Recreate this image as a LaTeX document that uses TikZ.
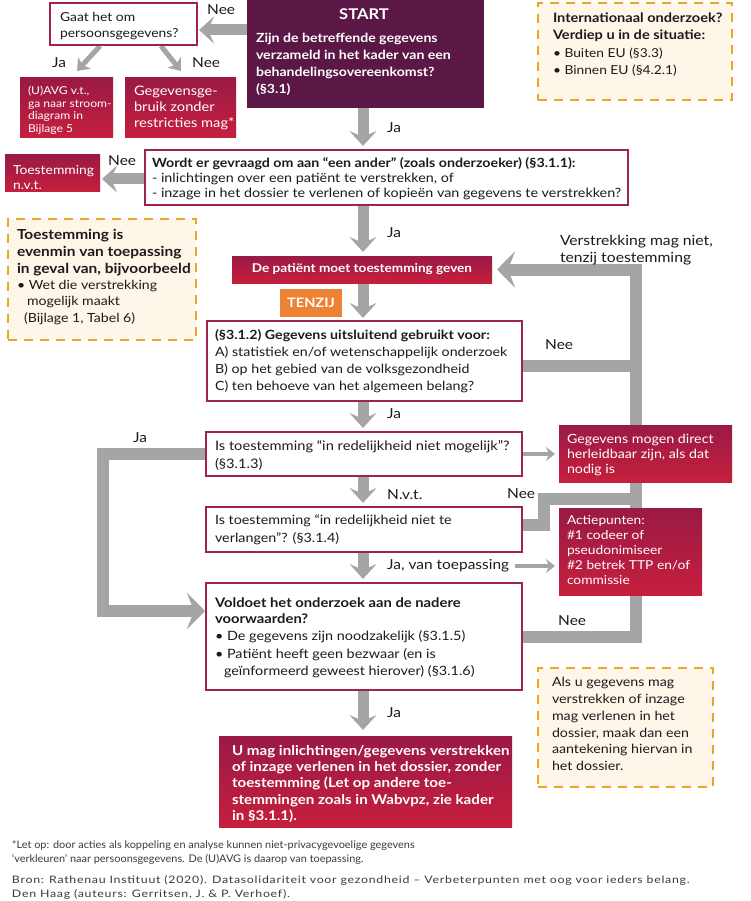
\documentclass[tikz,border=0pt]{standalone}
\usepackage{fontspec}
\setmainfont[FakeStretch=1.12]{Lato}
\newfontfamily\condfont[FakeStretch=1.04]{Lato}
\newfontfamily\srcfont[FakeStretch=1.2,LetterSpace=7]{Lato}
\usetikzlibrary{arrows.meta}
\definecolor{crimA}{HTML}{9A1A45}
\definecolor{crimB}{HTML}{C61F3D}
\definecolor{plum}{HTML}{5B1847}
\definecolor{frame}{HTML}{A0224F}
\definecolor{arrowgray}{HTML}{A5A5A5}
\definecolor{dashor}{HTML}{EBA624}
\definecolor{cream}{HTML}{FDF6E9}
\definecolor{tenzijor}{HTML}{EE8234}
\definecolor{ink}{HTML}{1E1A1C}
\definecolor{inkb}{HTML}{3A3A3A}
\pgfdeclarelayer{bg}
\pgfsetlayers{bg,main}
\newcommand\fsz[2]{\fontsize{#1}{#2}\selectfont}
\begin{document}
\begin{tikzpicture}[x=1pt,y=-1pt,
  box/.style={anchor=north west, inner sep=0pt, outer sep=0pt, rectangle},
  whitebox/.style={box, draw=frame, line width=1.8pt, fill=white},
  redbox/.style={box, top color=crimA, bottom color=crimB},
  plumbox/.style={box, fill=plum},
  notebox/.style={box, draw=dashor, line width=2.6pt, dash pattern=on 9pt off 7pt, fill=cream},
  tx/.style={anchor=north west, inner sep=0pt, outer sep=0pt, align=left, text=ink, font=\fsz{12.7}{17}},
  wtx/.style={tx, text=white},
  lbl/.style={anchor=west, inner sep=0pt, text=ink, font=\fsz{13.8}{15}},
  bigarrow/.style={draw=arrowgray, line width=11pt, -{Stealth[length=15pt,width=27pt,inset=6pt]}},
  rail/.style={draw=arrowgray, line width=12pt, line join=miter},
  railarrow/.style={rail, -{Stealth[length=18pt,width=36pt,inset=7pt]}},
  midarrow/.style={draw=arrowgray, line width=5pt, -{Stealth[length=11pt,width=17pt,inset=3pt]}},
  thinarrow/.style={draw=arrowgray, line width=3.5pt, -{Stealth[length=9pt,width=14pt,inset=3pt]}}
]
\useasboundingbox (0,0) rectangle (750,901);
\begin{pgfonlayer}{bg}
\fill[white] (0,0) rectangle (750,901);
\end{pgfonlayer}

% ---------- top ----------
\node[plumbox, minimum width=237pt, minimum height=108pt] (start) at (247,0) {};
\node[anchor=north, inner sep=0pt, text=white, font=\bfseries\fsz{14.8}{17}] (starttitle) at (364,8) {START};
\node[wtx, font=\bfseries\fsz{12.6}{17}] (starttext) at (256,33) {Zijn de betreffende gegevens\\verzameld in het kader van een\\behandelingsovereenkomst?\\(§3.1)};

\node[whitebox, minimum width=147pt, minimum height=42pt] (gaat) at (50,3) {};
\node[tx, font=\fsz{12.4}{16}] (gaattext) at (60,12) {Gaat het om\\persoonsgegevens?};

\node[redbox, minimum width=93pt, minimum height=60pt] (uavg) at (20,78) {};
\node[wtx, font=\fsz{10.8}{12.7}] (uavgtext) at (28,86) {(U)AVG v.t.,\\ga naar stroom-\\diagram in\\Bijlage 5};
\node[redbox, minimum width=111pt, minimum height=60pt] (gebruik) at (125,78) {};
\node[wtx, font=\fsz{13.1}{16}] (gebruiktext) at (134,86) {Gegevensge-\\bruik zonder\\restricties mag*};

\node[notebox, minimum width=194pt, minimum height=97pt] (intl) at (538,3) {};
\node[tx, font=\bfseries\fsz{13}{16.5}] (intltitle) at (553,13) {Internationaal onderzoek?\\Verdiep u in de situatie:};
\node[tx, font=\fsz{12.3}{17}] (intllist) at (553,48) {• Buiten EU (§3.3)\\• Binnen EU (§4.2.1)};

\node[lbl] (neeStart) at (207,10) {Nee};
\node[lbl] (jaGaat) at (52,63) {Ja};
\node[lbl] (neeGaat) at (192,63) {Nee};
\node[lbl] (jaStart) at (387,128) {Ja};

% ---------- wordt ----------
\node[whitebox, minimum width=483pt, minimum height=55pt] (wordt) at (145,150) {};
\node[tx, font=\fsz{12.8}{15}] (wordttext) at (152,158) {{\fontsize{12.7}{15}\selectfont\bfseries Wordt er gevraagd om aan “een ander” (zoals onderzoeker) (§3.1.1):}\\- inlichtingen over een patiënt te verstrekken, of\\- inzage in het dossier te verlenen of kopieën van gegevens te verstrekken?};
\node[redbox, minimum width=95pt, minimum height=37pt] (nvt) at (5,155) {};
\node[wtx, font=\fsz{12.4}{15}] (nvttext) at (13,165) {Toestemming\\n.v.t.};
\node[lbl] (neeWordt) at (108,161) {Nee};

\node[notebox, minimum width=188pt, minimum height=121pt] (evenmin) at (8,219) {};
\node[tx, font=\bfseries\fsz{13.8}{17}] (evenmintitle) at (17,229) {Toestemming is\\evenmin van toepassing\\in geval van, bijvoorbeeld};
\node[tx, font=\fsz{12.6}{16.5}] (evenminlist) at (17,280) {• Wet die verstrekking\\\hspace*{10pt}mogelijk maakt\\\hspace*{7pt}(Bijlage 1, Tabel 6)};

\node[lbl] (jaWordt) at (387,233) {Ja};
\node[tx, font=\fsz{14}{17}] (verstr) at (560,235) {Verstrekking mag niet,\\tenzij toestemming};

\node[redbox, minimum width=260pt, minimum height=27pt, text=white, font=\bfseries\fsz{12.1}{15}] (patient) at (232,256) {De patiënt moet toestemming geven};
\node[box, fill=tenzijor, minimum width=62pt, minimum height=28pt, text=white, font=\bfseries\fsz{13}{15}] (tenzij) at (280,289) {TENZIJ};

% ---------- 3.1.2 ----------
\node[whitebox, minimum width=315pt, minimum height=80pt] (b312) at (207,321) {};
\node[tx] (b312text) at (215,330) {\textbf{(§3.1.2) Gegevens uitsluitend gebruikt voor:}\\A) statistiek en/of wetenschappelijk onderzoek\\B) op het gebied van de volksgezondheid\\C) ten behoeve van het algemeen belang?};
\node[lbl] (nee312) at (545,345) {Nee};

\node[lbl] (ja312) at (387,414) {Ja};
\node[whitebox, minimum width=316pt, minimum height=44pt] (mogelijk) at (206,432) {};
\node[tx, font=\fsz{13.1}{18}] (mogelijktext) at (215,440) {Is toestemming “in redelijkheid niet mogelijk”?\\(§3.1.3)};
\node[lbl] (jaLeft) at (133,438) {Ja};
\node[redbox, minimum width=173pt, minimum height=57pt] (direct) at (559,425) {};
\node[wtx, font=\fsz{12.7}{15}] (directtext) at (567,434) {Gegevens mogen direct\\herleidbaar zijn, als dat\\nodig is};

\node[lbl] (nvtlbl) at (387,495) {N.v.t.};
\node[lbl] (neeVerl) at (507,494) {Nee};
\node[whitebox, minimum width=316pt, minimum height=45pt] (verlangen) at (206,507) {};
\node[tx, font=\fsz{12.8}{18}] (verlangentext) at (215,515) {Is toestemming “in redelijkheid niet te\\verlangen”? (§3.1.4)};
\node[redbox, minimum width=143pt, minimum height=87pt] (actie) at (559,508) {};
\node[wtx, font=\fsz{12.3}{15.2}] (actietext) at (567,515) {Actiepunten:\\\#1 codeer of\\pseudonimiseer\\\#2 betrek TTP en/of\\commissie};
\node[lbl] (jaToep) at (387,566) {Ja, van toepassing};

\node[whitebox, minimum width=316pt, minimum height=107pt] (voldoet) at (206,583) {};
\node[tx, font=\bfseries\fsz{13.2}{15.5}] (voldoettitle) at (215,598) {Voldoet het onderzoek aan de nadere\\voorwaarden?};
\node[tx, font=\fsz{12.85}{17.5}] (voldoetlist) at (215,631) {• De gegevens zijn noodzakelijk (§3.1.5)\\• Patiënt heeft geen bezwaar (en is\\\hspace*{9pt}geïnformeerd geweest hierover) (§3.1.6)};
\node[lbl] (neeVoldoet) at (558,621) {Nee};

\node[lbl] (jaVoldoet) at (387,713) {Ja};
\node[redbox, minimum width=293pt, minimum height=91pt] (final) at (219,736) {};
\node[wtx, font=\bfseries\fsz{13.5}{16.4}] (finaltext) at (232,745) {U mag inlichtingen/gegevens verstrekken\\of inzage verlenen in het dossier, zonder\\toestemming (Let op andere toe-\\stemmingen zoals in Wabvpz, zie kader\\in §3.1.1).};

\node[notebox, minimum width=175pt, minimum height=119pt] (alsu) at (538,668) {};
\node[tx, font=\fsz{12.7}{16.9}] (alsutext) at (552,677) {Als u gegevens mag\\verstrekken of inzage\\mag verlenen in het\\dossier, maak dan een\\aantekening hiervan in\\het dossier.};

% ---------- footnotes ----------
\node[tx, font=\condfont\fsz{10.5}{14}, text=inkb] (note) at (12,841) {*Let op: door acties als koppeling en analyse kunnen niet-privacygevoelige gegevens\\‘verkleuren’ naar persoonsgegevens. De (U)AVG is daarop van toepassing.};
\node[tx, font=\srcfont\fsz{10.3}{13.5}, text=inkb] (source) at (12,876) {Bron: Rathenau Instituut (2020). Datasolidariteit voor gezondheid – Verbeterpunten met oog voor ieders belang.\\Den Haag (auteurs: Gerritsen, J. \& P. Verhoef).};

% ---------- connectors ----------
\coordinate (downX) at (363,0);
\coordinate (railX) at (636,0);
\coordinate (leftX) at (103,0);
\coordinate (bendX) at (544,0);
\coordinate (yStartNee) at (0,30);
\coordinate (yNvt) at (0,179);
\coordinate (y312) at (0,366);
\coordinate (yVerl) at (0,525);
\coordinate (yJoin) at (0,499);
\coordinate (yVold) at (0,637);
\coordinate (yLeftBot) at (0,611);
\coordinate (jaFrom) at (100,46);
\coordinate (jaTo) at (77,71);
\coordinate (neeFrom) at (161,46);
\coordinate (neeTo) at (181,71);

\begin{pgfonlayer}{bg}
\draw[bigarrow, shorten >=2pt] (start.west |- yStartNee) -- (gaat.east |- yStartNee);
\draw[midarrow] (jaFrom) -- (jaTo);
\draw[midarrow] (neeFrom) -- (neeTo);
\draw[bigarrow, shorten >=2pt] (wordt.west |- yNvt) -- (nvt.east |- yNvt);

\draw[bigarrow, shorten >=4pt] (start.south -| downX) -- (wordt.north -| downX);
\draw[bigarrow, shorten >=4pt] (wordt.south -| downX) -- (patient.north -| downX);
\draw[bigarrow, shorten >=3pt] (patient.south -| downX) -- (b312.north -| downX);
\draw[bigarrow, shorten >=4pt] (b312.south -| downX) -- (mogelijk.north -| downX);
\draw[bigarrow, shorten >=4pt] (mogelijk.south -| downX) -- (verlangen.north -| downX);
\draw[bigarrow, shorten >=4pt] (verlangen.south -| downX) -- (voldoet.north -| downX);
\draw[bigarrow, shorten >=6pt] (voldoet.south -| downX) -- (final.north -| downX);

\draw[railarrow, shorten >=5pt] (voldoet.east |- yVold) -- (railX |- yVold) -- (railX |- patient.east) -- (patient.east);
\draw[rail] (b312.east |- y312) -- (railX |- y312);
\draw[rail] (verlangen.east |- yVerl) -- (bendX |- yVerl) -- (bendX |- yJoin) -- (railX |- yJoin);
\draw[railarrow, shorten >=1pt] (mogelijk.west) -- (leftX |- mogelijk.west) -- (leftX |- yLeftBot) -- (voldoet.west |- yLeftBot);

\draw[thinarrow, shorten >=4pt] (mogelijk.east) -- (direct.west |- mogelijk.east);
\draw[thinarrow, shorten >=4pt] ([xshift=6pt]jaToep.east) -- (actie.west |- jaToep.east);
\end{pgfonlayer}
\end{tikzpicture}
\end{document}
